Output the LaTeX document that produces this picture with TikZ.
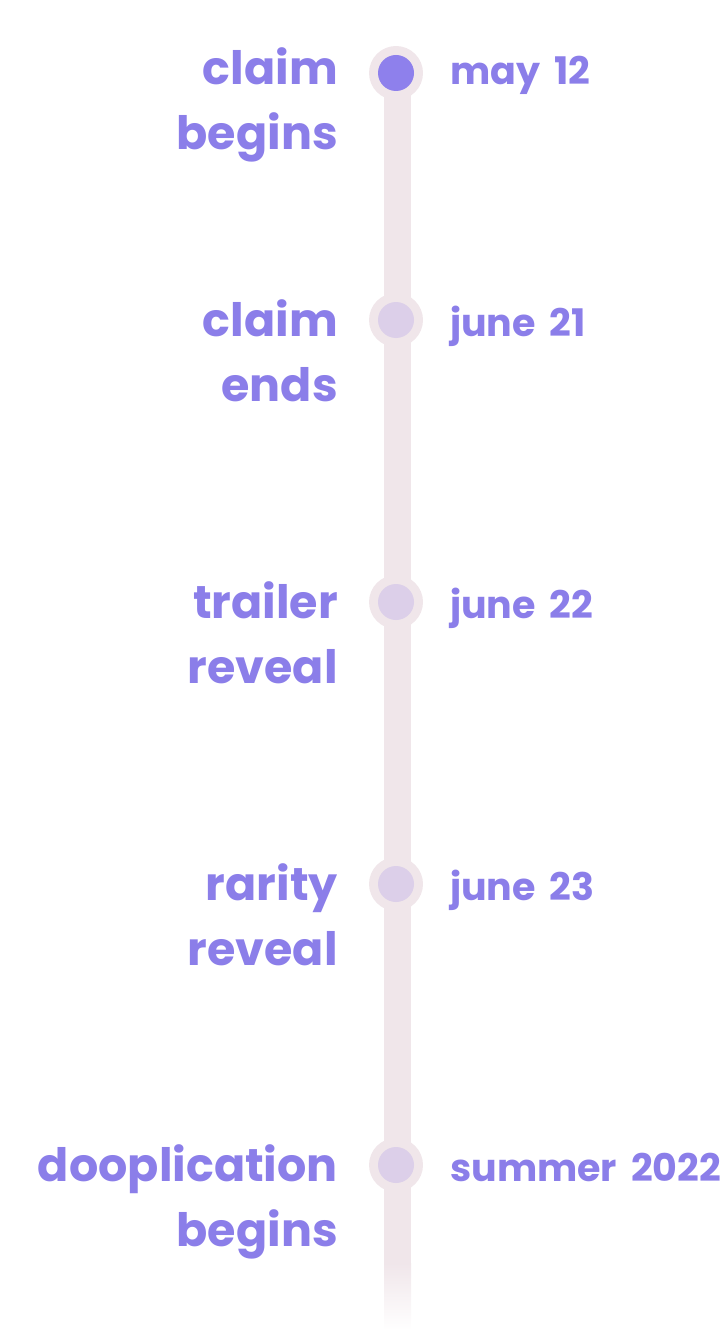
\documentclass[tikz,border=0pt]{standalone}
\usepackage{fontspec}
\setmainfont{Poppins}
\definecolor{txt}{HTML}{8B7EE9}
\definecolor{ring}{HTML}{F0E6EA}
\definecolor{dotA}{HTML}{8E80EC}
\definecolor{dotB}{HTML}{DCCFE9}
\newcommand\mydatefont{\fontsize{38}{40}\selectfont\bfseries\spaceskip=14pt\relax}
\begin{document}
\begin{tikzpicture}[x=1pt,y=-1pt,
  lbl/.style={anchor=base east,inner sep=0,text=txt,font=\fontsize{46}{65}\selectfont\bfseries,align=right},
  dte/.style={anchor=base west,inner sep=0,text=txt,font=\mydatefont},
  ringc/.style={circle,fill=ring,minimum size=54pt,inner sep=0},
  dotc/.style={circle,minimum size=36pt,inner sep=0}]
\useasboundingbox (0,0) rectangle (723,1332);
\fill[ring] (384,73) rectangle (411,1264);
\shade[top color=ring,bottom color=white] (384,1263) rectangle (411,1330);
\foreach \n/\y/\c in {a/73/dotA,b/320/dotB,c/602/dotB,d/884/dotB,e/1165/dotB}{
  \node[ringc] (r\n) at (396,\y) {};
  \node[dotc,fill=\c] (d\n) at (396,\y) {};
}
\node[lbl] (la) at (338,150) {claim\\begins};
\node[lbl] (lb) at (338,401) {claim\\ends};
\node[lbl] (lc) at (338,683) {trailer\\reveal};
\node[lbl] (ld) at (338,965) {rarity\\reveal};
\node[lbl] (le) at (338,1246) {dooplication\\begins};
\node[dte] (ta) at (450,85) {may 12};
\node[dte] (tb) at (450,336) {june 21};
\node[dte] (tc) at (450,618) {june 22};
\node[dte] (td) at (450,900) {june 23};
\node[dte] (te) at (450,1181) {summer 2022};
\end{tikzpicture}
\end{document}
